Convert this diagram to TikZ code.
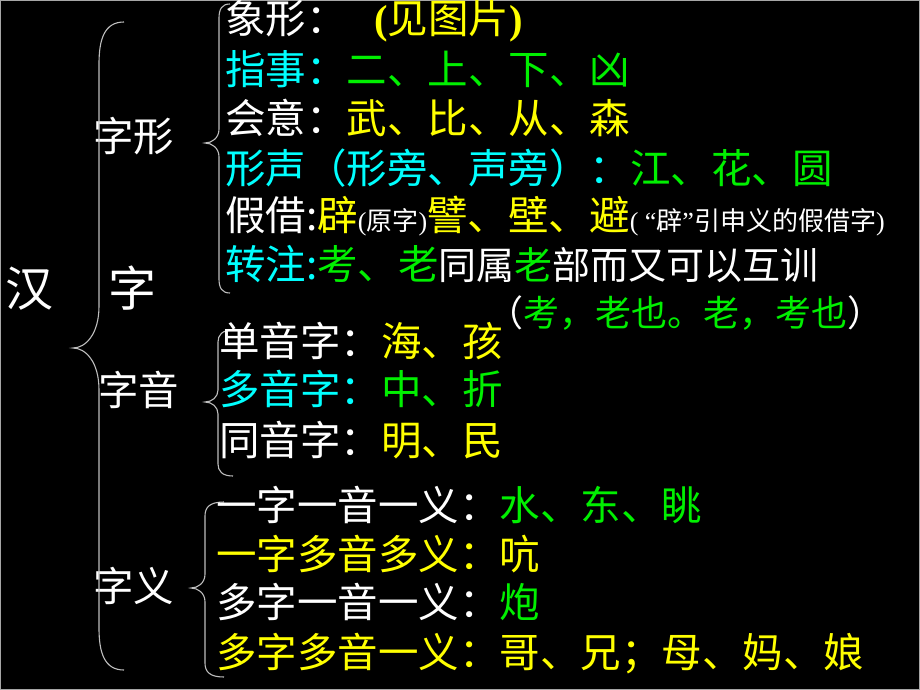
\documentclass[tikz,border=0pt]{standalone}
\usepackage{fontspec}
\setmainfont{Noto Sans CJK SC}
\newfontfamily\lat{Liberation Serif}
\definecolor{cy}{RGB}{0,255,255}
\definecolor{gr}{RGB}{0,240,0}
\definecolor{ye}{RGB}{255,255,0}
\definecolor{brc}{RGB}{190,190,190}
\begin{document}
\begin{tikzpicture}[x=1pt,y=-1pt,
  txt/.style={anchor=west,inner sep=0pt,text height=8pt,text depth=1pt,text=white},
  fbig/.style={font=\fontsize{48}{48}\selectfont,yshift=-14pt},
  fmain/.style={font=\fontsize{40.5}{40.5}\selectfont,yshift=-11.5pt},
  fnote/.style={font=\fontsize{36}{36}\selectfont,yshift=-10pt},
  br/.style={draw=brc,line width=1.1pt}]
\useasboundingbox (0,0) rectangle (920,690);
\fill[black] (0,0) rectangle (920,690);
\draw[gray!70,line width=1pt] (0.5,0.5) rectangle (919.5,689.5);
% left column
\node[txt,fbig] (han) at (5,289) {汉};
\node[txt,fbig] (zi) at (108,289) {字};
\node[txt,fmain] (zixing) at (93,136) {字形};
\node[txt,fmain] (ziyin) at (98,390) {字音};
\node[txt,fmain] (ziyi) at (93,586) {字义};
% braces
\draw[br] (124,22) .. controls (104,22) and (99,40) .. (99,64) -- (99,306) .. controls (99,335) and (85,348) .. (73,348) .. controls (85,348) and (99,361) .. (99,390) -- (99,628) .. controls (99,652) and (104,670) .. (124,670);
\draw[br] (230,4) .. controls (222,4) and (219,9) .. (219,18) -- (219,129) .. controls (219,138) and (212,143) .. (205,143) .. controls (212,143) and (219,148) .. (219,157) -- (219,279) .. controls (219,288) and (222,293) .. (230,293);
\draw[br] (233,330) .. controls (222,330) and (218,335) .. (218,342) -- (218,390) .. controls (218,397) and (212,402) .. (205,402) .. controls (212,402) and (218,407) .. (218,414) -- (218,464) .. controls (218,471) and (222,476) .. (233,476);
\draw[br] (224,502) .. controls (210,502) and (205,507) .. (205,516) -- (205,574) .. controls (205,583) and (198,588) .. (191,588) .. controls (198,588) and (205,593) .. (205,602) -- (205,663) .. controls (205,672) and (210,677) .. (224,677);
% 字形
\node[txt,fmain] (xiangxing) at (225,19) {象形：};
\node[txt,fmain,text=ye] (jiantu) at (374,19) {{\lat\bfseries (}见图片{\lat\bfseries )}};
\node[txt,fmain,text=cy] (zhishi) at (225,70) {指事：\textcolor{gr}{二、上、下、凶}};
\node[txt,fmain] (huiyi) at (225,118) {会意：\textcolor{ye}{武、比、从、森}};
\node[txt,fmain,text=cy] (xingsheng) at (225,168) {形声（形旁、声旁）：\textcolor{gr}{江、花、圆}};
\node[txt,fmain] (jiajie) at (225,215) {假借:\textcolor{ye}{辟}{\fontsize{26}{26}\selectfont{\lat(}原字{\lat)}}\textcolor{ye}{譬、壁、避}{\fontsize{26}{26}\selectfont{\lat( “}辟{\lat”}引申义的假借字{\lat)}}};
\node[txt,fmain,text=cy] (zhuanzhu) at (225,264) {转注:\textcolor{gr}{考、老}{\fontsize{38}{38}\selectfont\color{white}同属\textcolor{gr}{老}部而又可以互训}};
\node[txt,fnote] (kaolao) at (487,313) {（\textcolor{gr}{考，老也。老，考也}）};
% 字音
\node[txt,fmain] (danyin) at (219,341) {单音字：\textcolor{ye}{海、孩}};
\node[txt,fmain,text=cy] (duoyin) at (219,389) {多音字：\textcolor{gr}{中、折}};
\node[txt,fmain] (tongyin) at (219,440) {同音字：\textcolor{ye}{明、民}};
% 字义
\node[txt,fmain] (yi1) at (216,505) {一字一音一义：\textcolor{gr}{水、东、眺}};
\node[txt,fmain,text=ye] (yi2) at (216,554) {一字多音多义：吭};
\node[txt,fmain] (yi3) at (216,602) {多字一音一义：\textcolor{gr}{炮}};
\node[txt,fmain,text=ye] (yi4) at (216,652) {多字多音一义：哥、兄；母、妈、娘};
\end{tikzpicture}
\end{document}
